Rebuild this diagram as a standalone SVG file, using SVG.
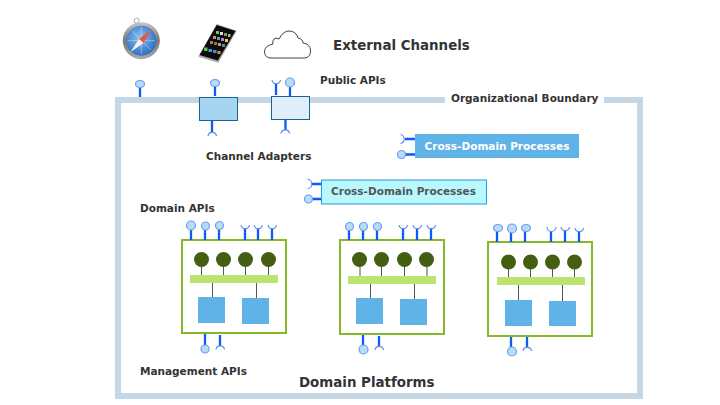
<svg xmlns="http://www.w3.org/2000/svg" width="720" height="405" viewBox="0 0 720 405">
<defs>
<linearGradient id="rim" x1="0" y1="0" x2="0" y2="1"><stop offset="0" stop-color="#c8c8c8"/><stop offset="0.5" stop-color="#777"/><stop offset="1" stop-color="#aaa"/></linearGradient>
<radialGradient id="face" cx="0.45" cy="0.4" r="0.65"><stop offset="0" stop-color="#8fc1ee"/><stop offset="1" stop-color="#2468bc"/></radialGradient>
</defs>
<style>
text{font-family:"DejaVu Sans",Verdana,sans-serif;font-weight:bold;fill:#333}
.s{font-size:10.5px}.l{font-size:13.400px}
.stem{stroke:#0a5cf5;stroke-width:2.300;fill:none}
.ball{fill:#b8dcf5;stroke:#6c9cf5;stroke-width:1.200}
.sock{stroke:#5c8cf5;stroke-width:1.200;fill:none}
.pf{fill:#fff;stroke:#84b82a;stroke-width:2}
.tree{fill:#445f12}
.bar{fill:#bde46e}
.sq{fill:#60b3e6}
.ln{stroke:#555;stroke-width:1;fill:none}
.ad{stroke:#1a6490;stroke-width:1}
</style>
<rect width="720" height="405" fill="#fff"/>
<g id="boundary">
<rect x="118" y="100" width="522" height="296" fill="none" stroke="#c5d7e4" stroke-width="6"/>
<rect x="445" y="94" width="159" height="12" fill="#fff"/>
<text class="s" x="451" y="102">Organizational Boundary</text>
</g>
<g id="safari">
<circle cx="136.700" cy="20.700" r="2.500" fill="none" stroke="#aaa" stroke-width="1"/>
<circle cx="141.300" cy="40.700" r="18.500" fill="url(#rim)"/>
<circle cx="141.300" cy="40.700" r="15" fill="url(#face)"/>
<path d="M141.300 27V54.500M127.500 40.700H155M132 31L151 50M151 31L132 50" stroke="#d5e6f7" stroke-width="0.700" opacity="0.700"/>
<path d="M152 29L143.500 43L139 39Z" fill="#e8583a"/>
<path d="M130.500 52L139 39L143.500 43Z" fill="#f0f2f6"/>
</g>
<g id="phone">
<path d="M216.700 24L236.700 30.700L218.300 62.700L198.300 56.700Z" fill="#aaa"/>
<path d="M216.700 25L235.500 31L217.800 60.500L199.500 55Z" fill="#0c0c0c"/>
<g>
<rect x="216" y="31" width="3" height="3" fill="#6c4"/><rect x="220" y="32" width="3" height="3" fill="#ddd"/><rect x="224" y="33" width="3" height="3" fill="#6a6"/><rect x="228" y="34" width="2.500" height="3" fill="#ca8"/>
<rect x="213" y="36" width="3" height="3" fill="#d84"/><rect x="217" y="37" width="3" height="3" fill="#59c"/><rect x="221" y="38" width="3" height="3" fill="#a8c"/><rect x="225" y="39" width="3" height="3" fill="#ec6"/>
<rect x="210" y="41" width="3" height="3" fill="#a76"/><rect x="214" y="42" width="3" height="3" fill="#876"/><rect x="218" y="43" width="3" height="3" fill="#c96"/><rect x="222" y="44" width="3" height="3" fill="#68a"/>
<rect x="204" y="47.500" width="3.500" height="3.500" fill="#5c4"/><rect x="208.500" y="49" width="3.500" height="3" fill="#49c"/><rect x="213" y="50" width="3.500" height="3" fill="#58d"/><rect x="217.500" y="51" width="3" height="3" fill="#e83"/>
</g>
</g>
<g id="cloud">
<path d="M271 58H305Q311 57 310.500 50Q310 44 303 43Q303 39 298 38Q296 31 289 31Q283 31 279 39Q276 37 274 39Q272 41 273 44Q264 46 264.500 52Q265 58 271 58Z" fill="#fff" stroke="#444" stroke-width="1"/>
</g>
<text class="l" x="333" y="50">External Channels</text>
<text class="s" x="320" y="84">Public APIs</text>
<text class="s" x="206" y="160">Channel Adapters</text>
<text class="s" x="140" y="212">Domain APIs</text>
<text class="s" x="140" y="375">Management APIs</text>
<text class="l" x="299" y="387">Domain Platforms</text>
<g id="adapter1"><rect class="ad" x="199.500" y="97.500" width="38" height="23" fill="#a5d5f0"/></g>
<g id="adapter2"><rect class="ad" x="271.500" y="96.500" width="38" height="23" fill="#dfeefa"/></g>
<g id="process1"><rect x="415" y="134" width="164" height="24" fill="#60b3e6"/><text class="s" x="424.500" y="150" style="fill:#fff">Cross-Domain Processes</text></g>
<g id="process2"><rect x="321.500" y="180" width="165" height="24" fill="#b8f8ff" stroke="#2a9ae0" stroke-width="1"/><text class="s" x="331" y="195" style="fill:#555">Cross-Domain Processes</text></g>
<g id="platform1">
<rect class="pf" x="182" y="240" width="104" height="93"/>
<path class="ln" d="M201.500 262V276M223.500 262V276M245.500 262V276M268.500 262V276M212.500 283V297M256.500 283V298"/>
<circle class="tree" cx="201.500" cy="259.500" r="7.500"/><circle class="tree" cx="223.500" cy="259.500" r="7.500"/><circle class="tree" cx="245.500" cy="259.500" r="7.500"/><circle class="tree" cx="268.500" cy="259.500" r="7.500"/>
<rect class="bar" x="190" y="275" width="88" height="8"/>
<rect class="sq" x="198" y="297" width="27" height="26"/><rect class="sq" x="242" y="298" width="27" height="26"/>
</g>
<g id="platform2">
<rect class="pf" x="340" y="240" width="104" height="94"/>
<path class="ln" d="M360 262V277M381.500 262V277M404.500 262V277M427 262V277M370.500 284V298M414.500 284V299"/>
<circle class="tree" cx="359.500" cy="259.500" r="7.500"/><circle class="tree" cx="381.500" cy="259.500" r="7.500"/><circle class="tree" cx="404.500" cy="259.500" r="7.500"/><circle class="tree" cx="426.500" cy="259.500" r="7.500"/>
<rect class="bar" x="348" y="276" width="88" height="8"/>
<rect class="sq" x="356" y="298" width="27" height="26"/><rect class="sq" x="400" y="299" width="27" height="26"/>
</g>
<g id="platform3">
<rect class="pf" x="488" y="242" width="104" height="94"/>
<path class="ln" d="M508.500 265V278M530.500 265V278M552.500 265V278M574.500 265V278M518.500 285V300M562.500 285V301"/>
<circle class="tree" cx="508.500" cy="262" r="7.500"/><circle class="tree" cx="530.500" cy="262" r="7.500"/><circle class="tree" cx="552.500" cy="262" r="7.500"/><circle class="tree" cx="574.500" cy="262" r="7.500"/>
<rect class="bar" x="497" y="277" width="88" height="8"/>
<rect class="sq" x="505" y="300" width="27" height="26"/><rect class="sq" x="549" y="301" width="27" height="25"/>
</g>
<g id="connectors">
<path class="stem" d="M140 87V97M215 86V96M276 84V95M290 86V96M285.500 120V130M212 121V132M405 139H415M405 154.500H415M311.500 184H321M312 199H321
M191 229V240M205 230V240M219 229V240M245 229V240M258 229V240M272 229V240M205 334V345M220 335V346
M349 230V240M363 230V240M377 230V240M403 229V240M417 229V240M431 229V240M363 335V346M379 336V346
M497 231V242M511 232V242M525 231V242M551 231V242M565 231V242M579 231V242M511 337V347M527 337V347"/>
<ellipse class="ball" cx="140" cy="84" rx="4.500" ry="3.500"/><ellipse class="ball" cx="215" cy="83" rx="4.500" ry="3.500"/><circle class="ball" cx="290" cy="82.500" r="4.500"/>
<path class="sock" d="M272 80A4.300 4.300 0 0 0 280.500 80M208 136A4.300 4.300 0 0 1 216.500 136M281 133.500A4.300 4.300 0 0 1 289.500 133.500M400.500 134.500A4.600 4.600 0 0 1 400.500 143.500M307.500 179.500A4.500 4.500 0 0 1 307.500 188.500"/>
<circle class="ball" cx="401.500" cy="154.500" r="4"/><circle class="ball" cx="308.500" cy="199" r="4"/>
<circle class="ball" cx="191" cy="225.500" r="4.500"/><circle class="ball" cx="205.500" cy="226" r="4"/><circle class="ball" cx="219.500" cy="225.500" r="4"/>
<path class="sock" d="M241 225A4.300 4.300 0 0 0 249.500 225M254 225A4.300 4.300 0 0 0 262.500 225M268 225A4.300 4.300 0 0 0 276.500 225"/>
<circle class="ball" cx="205" cy="349" r="4"/><path class="sock" d="M216 349.500A4.300 4.300 0 0 1 224.500 349.500"/>
<circle class="ball" cx="349.500" cy="226.500" r="4"/><circle class="ball" cx="363.500" cy="226.500" r="4"/><circle class="ball" cx="377.500" cy="226.500" r="4"/>
<path class="sock" d="M399 225A4.300 4.300 0 0 0 407.500 225M413 225A4.300 4.300 0 0 0 421.500 225M427 225A4.300 4.300 0 0 0 435.500 225"/>
<circle class="ball" cx="363.500" cy="349.500" r="4.500"/><path class="sock" d="M375 350A4.300 4.300 0 0 1 383.500 350"/>
<ellipse class="ball" cx="498" cy="228" rx="4.500" ry="3.500"/><circle class="ball" cx="512" cy="228.500" r="4.500"/><ellipse class="ball" cx="526" cy="228" rx="4.500" ry="3.500"/>
<path class="sock" d="M547 227A4.500 4.500 0 0 0 556 227M561 227A4.300 4.300 0 0 0 569.500 227M575 228A4.300 4.300 0 0 0 583.500 228"/>
<circle class="ball" cx="512" cy="351.500" r="4.500"/><path class="sock" d="M523 351A4.300 4.300 0 0 1 531.500 351"/>
</g>
</svg>
